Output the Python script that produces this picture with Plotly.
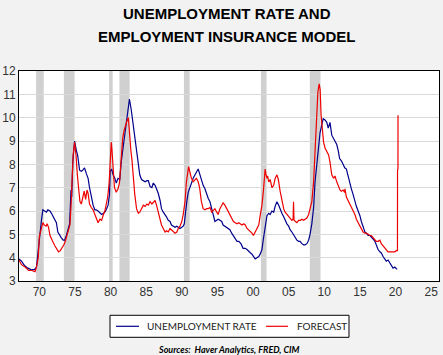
import plotly.graph_objects as go

# ---------------- data ----------------
unemp_years = [1967.15, 1967.5, 1967.95, 1968.4, 1968.9, 1969.35, 1969.6, 1969.8, 1970.0, 1970.3,
    1970.5, 1970.8, 1971.0, 1971.2, 1971.5, 1971.7, 1971.95, 1972.15, 1972.4, 1972.6,
    1972.85, 1973.1, 1973.35, 1973.55, 1973.8, 1974.0, 1974.25, 1974.45, 1974.55, 1974.7,
    1974.95, 1975.2, 1975.4, 1975.65, 1975.9, 1976.1, 1976.35, 1976.6, 1976.85, 1977.05,
    1977.3, 1977.55, 1977.8, 1978.0, 1978.25, 1978.5, 1978.75, 1979.0, 1979.2, 1979.45,
    1979.65, 1979.85, 1979.95, 1980.15, 1980.35, 1980.6, 1980.8, 1981.05, 1981.3, 1981.5,
    1981.75, 1981.97, 1982.2, 1982.45, 1982.65, 1982.9, 1983.2, 1983.45, 1983.7, 1983.9,
    1984.1, 1984.35, 1984.6, 1984.85, 1985.1, 1985.3, 1985.55, 1985.8, 1986.0, 1986.25,
    1986.45, 1986.7, 1986.95, 1987.15, 1987.4, 1987.65, 1987.85, 1988.1, 1988.35, 1988.55,
    1988.8, 1989.05, 1989.3, 1989.5, 1989.75, 1990.0, 1990.2, 1990.35, 1990.45, 1990.7,
    1990.9, 1991.15, 1991.4, 1991.6, 1991.85, 1992.1, 1992.3, 1992.55, 1992.8, 1993.0,
    1993.25, 1993.5, 1993.7, 1993.95, 1994.2, 1994.4, 1994.65, 1994.9, 1995.1, 1995.35,
    1995.6, 1995.8, 1996.05, 1996.3, 1996.5, 1996.75, 1997.0, 1997.25, 1997.5, 1997.75,
    1998.0, 1998.3, 1998.6, 1998.9, 1999.15, 1999.4, 1999.65, 1999.85, 2000.1, 2000.3,
    2000.55, 2000.8, 2001.0, 2001.25, 2001.45, 2001.7, 2001.95, 2002.2, 2002.4, 2002.65,
    2002.9, 2003.1, 2003.35, 2003.6, 2003.8, 2004.05, 2004.3, 2004.5, 2004.75, 2005.0,
    2005.2, 2005.45, 2005.7, 2005.9, 2006.15, 2006.4, 2006.6, 2006.85, 2007.1, 2007.3,
    2007.55, 2007.8, 2008.0, 2008.25, 2008.5, 2008.7, 2008.95, 2009.2, 2009.4, 2009.65,
    2009.85, 2010.1, 2010.35, 2010.55, 2010.8, 2011.05, 2011.3, 2011.5, 2011.75, 2011.95,
    2012.15, 2012.4, 2012.65, 2012.87, 2013.1, 2013.35, 2013.6, 2013.8, 2014.05, 2014.3,
    2014.5, 2014.75, 2015.0, 2015.2, 2015.45, 2015.7, 2015.9, 2016.15, 2016.4, 2016.6,
    2016.85, 2017.1, 2017.3, 2017.55, 2017.8, 2018.0, 2018.25, 2018.5, 2018.7, 2018.95,
    2019.2, 2019.4, 2019.65, 2019.9, 2020.1, 2020.22]
unemp_values = [3.95, 3.85, 3.65, 3.55, 3.48, 3.5, 3.6, 4.2, 4.9, 5.6,
    6.05, 6.0, 5.95, 6.05, 6.0, 5.9, 5.75, 5.6, 5.5, 5.1,
    4.95, 4.85, 4.75, 4.75, 4.95, 5.2, 5.45, 6.9, 6.6, 8.1,
    9.0, 8.6, 8.35, 7.75, 7.7, 7.75, 7.85, 7.6, 7.4, 7.0,
    6.55, 6.25, 6.05, 6.05, 6.0, 5.9, 5.85, 5.9, 5.95, 6.1,
    6.25, 6.7, 7.7, 7.8, 7.55, 7.4, 7.2, 7.4, 7.35, 8.1,
    8.7, 9.25, 9.9, 10.4, 10.8, 10.35, 9.6, 9.2, 8.4, 7.95,
    7.55, 7.35, 7.3, 7.25, 7.3, 7.3, 7.05, 7.0, 7.2, 7.1,
    6.95, 6.75, 6.45, 6.1, 5.95, 5.85, 5.75, 5.6, 5.55, 5.4,
    5.35, 5.3, 5.35, 5.3, 5.25, 5.3, 5.35, 5.45, 5.8, 6.4,
    6.8, 7.05, 7.25, 7.4, 7.55, 7.7, 7.8, 7.55, 7.25, 7.1,
    6.95, 6.7, 6.55, 6.4, 6.1, 5.85, 5.55, 5.6, 5.65, 5.6,
    5.55, 5.4, 5.35, 5.3, 5.25, 5.2, 5.05, 4.95, 4.85, 4.7,
    4.7, 4.6, 4.4, 4.4, 4.35, 4.25, 4.2, 4.15, 4.05, 3.95,
    4.0, 4.05, 4.15, 4.35, 4.8, 5.4, 5.8, 5.9, 5.85, 6.0,
    5.95, 6.2, 6.4, 6.25, 6.05, 5.9, 5.75, 5.6, 5.45, 5.35,
    5.2, 5.1, 4.95, 4.85, 4.75, 4.7, 4.7, 4.6, 4.55, 4.55,
    4.6, 4.75, 5.0, 5.45, 6.15, 7.25, 8.1, 8.8, 9.35, 9.7,
    9.95, 9.9, 9.8, 9.55, 9.8, 9.25, 9.1, 9.05, 8.85, 8.6,
    8.25, 8.15, 8.0, 7.85, 7.8, 7.45, 7.2, 6.95, 6.7, 6.4,
    6.2, 6.0, 5.8, 5.55, 5.35, 5.1, 5.05, 4.95, 4.95, 4.9,
    4.8, 4.7, 4.55, 4.35, 4.25, 4.2, 4.05, 3.95, 3.85, 3.9,
    3.75, 3.7, 3.55, 3.6, 3.5, 3.5]

forecast_years = [1967.15, 1967.5, 1968.0, 1968.5, 1968.95, 1969.4, 1969.6, 1969.85, 1970.0, 1970.15,
    1970.35, 1970.5, 1970.7, 1970.95, 1971.1, 1971.3, 1971.5, 1971.75, 1971.95, 1972.2,
    1972.45, 1972.7, 1972.95, 1973.2, 1973.45, 1973.65, 1973.9, 1974.1, 1974.3, 1974.45,
    1974.6, 1974.75, 1974.95, 1975.15, 1975.35, 1975.5, 1975.7, 1975.9, 1976.1, 1976.3,
    1976.5, 1976.7, 1976.85, 1977.05, 1977.3, 1977.55, 1977.8, 1978.05, 1978.25, 1978.5,
    1978.75, 1979.0, 1979.2, 1979.4, 1979.6, 1979.8, 1979.95, 1980.1, 1980.2, 1980.35,
    1980.55, 1980.8, 1981.05, 1981.25, 1981.45, 1981.7, 1981.9, 1982.1, 1982.35, 1982.5,
    1982.65, 1982.85, 1983.0, 1983.2, 1983.4, 1983.65, 1983.9, 1984.1, 1984.35, 1984.6,
    1984.85, 1985.1, 1985.3, 1985.55, 1985.8, 1986.0, 1986.25, 1986.45, 1986.7, 1986.95,
    1987.15, 1987.4, 1987.65, 1987.85, 1988.1, 1988.35, 1988.55, 1988.8, 1989.05, 1989.3,
    1989.5, 1989.75, 1990.0, 1990.2, 1990.45, 1990.65, 1990.85, 1990.95, 1991.15, 1991.35,
    1991.6, 1991.85, 1992.05, 1992.3, 1992.5, 1992.75, 1993.0, 1993.25, 1993.5, 1993.7,
    1993.95, 1994.2, 1994.4, 1994.65, 1994.9, 1995.1, 1995.35, 1995.6, 1995.8, 1996.05,
    1996.3, 1996.5, 1996.75, 1997.0, 1997.25, 1997.5, 1997.75, 1998.0, 1998.2, 1998.45,
    1998.7, 1998.9, 1999.15, 1999.35, 1999.6, 1999.85, 2000.05, 2000.3, 2000.55, 2000.8,
    2001.0, 2001.25, 2001.45, 2001.7, 2001.8, 2001.95, 2002.05, 2002.2, 2002.4, 2002.65,
    2002.9, 2003.1, 2003.35, 2003.55, 2003.8, 2004.05, 2004.3, 2004.5, 2004.75, 2005.0,
    2005.2, 2005.45, 2005.62, 2005.68, 2005.75, 2005.9, 2006.15, 2006.4, 2006.65, 2006.85,
    2007.1, 2007.3, 2007.55, 2007.8, 2008.0, 2008.25, 2008.5, 2008.72, 2008.95, 2009.1,
    2009.28, 2009.42, 2009.55, 2009.7, 2009.9, 2010.1, 2010.35, 2010.6, 2010.8, 2011.05,
    2011.3, 2011.5, 2011.75, 2011.95, 2012.2, 2012.4, 2012.65, 2012.85, 2012.9, 2013.1,
    2013.35, 2013.55, 2013.8, 2014.05, 2014.3, 2014.5, 2014.75, 2015.0, 2015.2, 2015.45,
    2015.7, 2015.9, 2016.15, 2016.4, 2016.6, 2016.85, 2017.1, 2017.3, 2017.55, 2017.8,
    2018.0, 2018.25, 2018.5, 2018.7, 2018.95, 2019.2, 2019.4, 2019.65, 2019.9, 2020.1,
    2020.27, 2020.28, 2020.34, 2020.35]
forecast_values = [3.9, 3.7, 3.6, 3.45, 3.45, 3.4, 3.6, 4.0, 4.9, 5.05,
    5.3, 5.5, 5.4, 5.35, 5.45, 5.3, 4.95, 4.75, 4.65, 4.5,
    4.35, 4.25, 4.3, 4.4, 4.55, 4.7, 5.0, 5.2, 5.4, 6.2,
    7.3, 8.4, 8.95, 8.4, 7.5, 6.9, 6.4, 6.3, 6.6, 6.85,
    6.5, 6.9, 6.75, 6.3, 6.15, 6.05, 5.85, 5.6, 5.5, 5.65,
    5.6, 5.85, 6.0, 6.3, 6.6, 7.2, 8.2, 8.95, 8.6, 7.8,
    7.0, 6.8, 6.95, 7.2, 8.3, 9.1, 9.45, 9.7, 9.9, 10.0,
    9.3, 8.6, 8.2, 7.4, 6.7, 6.1, 5.9, 5.95, 6.1, 6.25,
    6.2, 6.3, 6.25, 6.4, 6.3, 6.35, 6.45, 6.25, 5.95, 5.65,
    5.4, 5.25, 5.1, 5.15, 5.1, 5.25, 5.2, 5.1, 5.05, 5.1,
    5.25, 5.35, 5.55, 5.85, 6.4, 7.25, 7.8, 7.9, 7.65, 7.4,
    7.25, 7.35, 7.4, 7.25, 7.0, 6.4, 6.1, 6.05, 6.1, 6.1,
    6.15, 5.95, 6.0, 6.1, 5.95, 5.85, 6.1, 6.25, 6.35, 6.25,
    6.1, 5.95, 5.85, 5.65, 5.55, 5.5, 5.45, 5.5, 5.45, 5.4,
    5.45, 5.4, 5.25, 5.2, 5.1, 5.05, 4.95, 5.1, 5.2, 5.4,
    5.8, 6.25, 6.85, 7.8, 7.6, 7.4, 7.5, 7.25, 7.35, 7.0,
    7.1, 7.4, 7.55, 7.35, 6.85, 6.4, 6.1, 5.95, 5.85, 5.8,
    5.7, 5.6, 5.65, 6.4, 5.6, 5.55, 5.5, 5.6, 5.6, 5.65,
    5.6, 5.65, 5.7, 5.85, 6.05, 6.4, 7.25, 8.95, 10.5, 11.1,
    11.45, 11.2, 10.1, 9.4, 8.95, 8.7, 8.55, 8.4, 8.1, 7.55,
    7.4, 7.5, 7.25, 7.1, 6.9, 6.85, 6.9, 6.8, 6.95, 6.6,
    6.45, 6.3, 6.2, 6.05, 5.85, 5.65, 5.5, 5.35, 5.25, 5.1,
    5.05, 5.05, 5.0, 4.95, 4.95, 4.85, 4.75, 4.7, 4.7, 4.75,
    4.6, 4.5, 4.4, 4.35, 4.25, 4.25, 4.25, 4.22, 4.25, 4.3,
    4.3, 7.75, 7.8, 10.1]

recession_start = [1969.55, 1973.45, 1979.8, 1981.25, 1990.3, 2001.1, 2007.97]
recession_end = [1970.62, 1974.95, 1980.3, 1982.68, 1991.1, 2001.9, 2009.47]

x_tick_years = [1970, 1975, 1980, 1985, 1990, 1995, 2000, 2005, 2010, 2015, 2020, 2025]
x_tick_labels = ["70", "75", "80", "85", "90", "95", "00", "05", "10", "15", "20", "25"]
y_ticks = [3, 4, 5, 6, 7, 8, 9, 10, 11, 12]

series_names = ["UNEMPLOYMENT RATE", "FORECAST"]
series_colors = ["#00008c", "#ee0000"]

# ---------------- figure ----------------
fig = go.Figure()
fig.add_trace(go.Scatter(x=unemp_years, y=unemp_values, mode="lines",
                         name=series_names[0], showlegend=False,
                         line=dict(color=series_colors[0], width=1.2)))
fig.add_trace(go.Scatter(x=forecast_years, y=forecast_values, mode="lines",
                         name=series_names[1], showlegend=False,
                         line=dict(color=series_colors[1], width=1.2)))

for s, e in zip(recession_start, recession_end):
    fig.add_shape(type="rect", xref="x", yref="paper", x0=s, x1=e, y0=0, y1=1,
                  fillcolor="#d0d0d0", line=dict(width=0), layer="below")

# legend box (drawn by hand to match the compact reference legend)
fig.add_shape(type="rect", xref="paper", yref="paper", x0=0.2167, x1=0.7857,
              y0=-0.2681, y1=-0.1633, fillcolor="#ffffff",
              line=dict(color="#000000", width=1))
legend_sample_x = [(0.231, 0.2857), (0.588, 0.6405)]
legend_text_x = [0.300, 0.657]
for (lx0, lx1), tx, nm, col in zip(legend_sample_x, legend_text_x, series_names, series_colors):
    fig.add_shape(type="line", xref="paper", yref="paper", x0=lx0, x1=lx1,
                  y0=-0.2157, y1=-0.2157, line=dict(color=col, width=1.2))
    fig.add_annotation(text=nm, xref="paper", yref="paper", x=tx, y=-0.2157,
                       xanchor="left", yanchor="middle", showarrow=False,
                       font=dict(family="Lato, Liberation Sans, Arial", size=10,
                                 color="#222222"))

fig.add_annotation(text="<b>UNEMPLOYMENT RATE AND</b>", xref="paper", yref="paper",
                   x=0.495, y=1.273, xanchor="center", yanchor="middle", showarrow=False,
                   font=dict(family="Liberation Sans, Arial", size=15, color="#000000"))
fig.add_annotation(text="<b>EMPLOYMENT INSURANCE MODEL</b>", xref="paper", yref="paper",
                   x=0.495, y=1.162, xanchor="center", yanchor="middle", showarrow=False,
                   font=dict(family="Liberation Sans, Arial", size=15, color="#000000"))
fig.add_annotation(text="<b><i>Sources:  Haver Analytics, FRED, CIM</i></b>", xref="paper",
                   yref="paper", x=0.5, y=-0.325, xanchor="center", yanchor="middle",
                   showarrow=False,
                   font=dict(family="Lato, Liberation Sans, Arial", size=9,
                             color="#000000"))

fig.update_layout(
    width=443, height=355,
    margin=dict(l=19, r=4, t=70.7, b=74.3, autoexpand=False),
    paper_bgcolor="#f2f2f2", plot_bgcolor="#ffffff",
    font=dict(family="Liberation Sans, Arial", size=12, color="#333333"),
    showlegend=False,
    xaxis=dict(range=[1967.15, 2026.1], tickmode="array", tickvals=x_tick_years,
               ticktext=x_tick_labels, showgrid=False, zeroline=False, ticks="",
               showline=True, linecolor="#000000", linewidth=1, mirror=True,
               tickfont=dict(size=12, color="#333333")),
    yaxis=dict(range=[3, 12], tickmode="array", tickvals=y_ticks, showgrid=True,
               gridcolor="#d9d9d9", gridwidth=1, zeroline=False, ticks="",
               showline=True, linecolor="#000000", linewidth=1, mirror=True,
               tickfont=dict(size=12, color="#333333")),
)

fig.write_html("out.html", config={"displayModeBar": False},
               post_script="document.body.style.margin='0';document.body.style.background='#f2f2f2';")
